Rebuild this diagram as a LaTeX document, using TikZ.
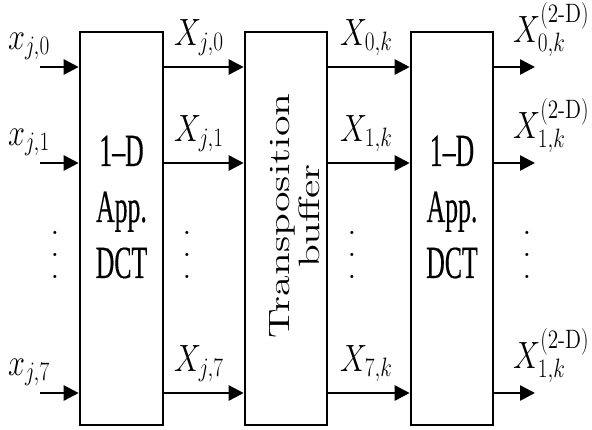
\RequirePackage{fix-cm}
\documentclass[tikz,border=0pt]{standalone}
\usepackage{amsmath}
\usepackage{fontspec}
\setmainfont{lmroman12-regular.otf}
\newfontfamily\blkfont{Liberation Serif}[FakeBold=0.4]
\usetikzlibrary{arrows.meta}

\begin{document}
\begin{tikzpicture}[
    x=1pt, y=-1pt,
    blk/.style={draw, line width=2.6pt, minimum width=83pt, minimum height=393pt, inner sep=0pt},
    arrow/.style={-{Triangle[length=15pt,width=15pt]}, line width=2.6pt},
    blktext/.style={align=center, xscale=0.56, font=\blkfont\fontsize{46}{56}\selectfont},
    rottext/.style={align=center, xscale=0.7, rotate=90, font=\fontsize{42}{43}\selectfont},
    lbl/.style={anchor=base west, inner sep=0pt, xscale=0.8, font=\fontsize{38}{40}\selectfont},
    dotcol/.style={align=center, inner sep=0pt, font=\fontsize{32}{22}\selectfont}
]
\useasboundingbox (0,0) rectangle (592,429);

% blocks
\node[blk] (dct1) at (121.5,228.5) {};
\node[blk, minimum width=82pt] (buf) at (286,228.5) {};
\node[blk, minimum width=82pt] (dct2) at (452,228.5) {};
\node[blktext] (dct1txt) at (121.5,207) {1–D\\App.\\DCT};
\node[rottext] (buftxt) at (295,216) {Transposition\\buffer};
\node[blktext] (dct2txt) at (452,207) {1–D\\App.\\DCT};

% free ends of the lines
\coordinate (in0) at (40,67);
\coordinate (in1) at (40,163);
\coordinate (in7) at (40,393);
\coordinate (out0) at (535,67);
\coordinate (out1) at (535,163);
\coordinate (out7) at (535,393);

% row 0
\draw[arrow] (in0) -- (dct1.west |- in0);
\draw[arrow] (dct1.east |- in0) -- (buf.west |- in0);
\draw[arrow] (buf.east |- in0) -- (dct2.west |- in0);
\draw[arrow] (dct2.east |- in0) -- (out0);
% row 1
\draw[arrow] (in1) -- (dct1.west |- in1);
\draw[arrow] (dct1.east |- in1) -- (buf.west |- in1);
\draw[arrow] (buf.east |- in1) -- (dct2.west |- in1);
\draw[arrow] (dct2.east |- in1) -- (out1);
% row 7
\draw[arrow] (in7) -- (dct1.west |- in7);
\draw[arrow] (dct1.east |- in7) -- (buf.west |- in7);
\draw[arrow] (buf.east |- in7) -- (dct2.west |- in7);
\draw[arrow] (dct2.east |- in7) -- (out7);

% labels
\node[lbl] (x0) at (8,49) {$x_{j,0}$};
\node[lbl] (x1) at (8,145) {$x_{j,1}$};
\node[lbl] (x7) at (8,375) {$x_{j,7}$};
\node[lbl] (y0) at (174,45) {$X_{j,0}$};
\node[lbl] (y1) at (174,141) {$X_{j,1}$};
\node[lbl] (y7) at (174,371) {$X_{j,7}$};
\node[lbl] (z0) at (340,45) {$X_{0,k}$};
\node[lbl] (z1) at (340,141) {$X_{1,k}$};
\node[lbl] (z7) at (340,371) {$X_{7,k}$};
\node[lbl] (o0) at (513,42) {$X^{(\text{2-D})}_{0,k}$};
\node[lbl] (o1) at (513,138) {$X^{(\text{2-D})}_{1,k}$};
\node[lbl] (o7) at (513,368) {$X^{(\text{2-D})}_{1,k}$};

% dots
\node[dotcol] (v1) at (55,255) {.\\.\\.};
\node[dotcol] (v2) at (187,255) {.\\.\\.};
\node[dotcol] (v3) at (352,255) {.\\.\\.};
\node[dotcol] (v4) at (527,255) {.\\.\\.};
\end{tikzpicture}
\end{document}
